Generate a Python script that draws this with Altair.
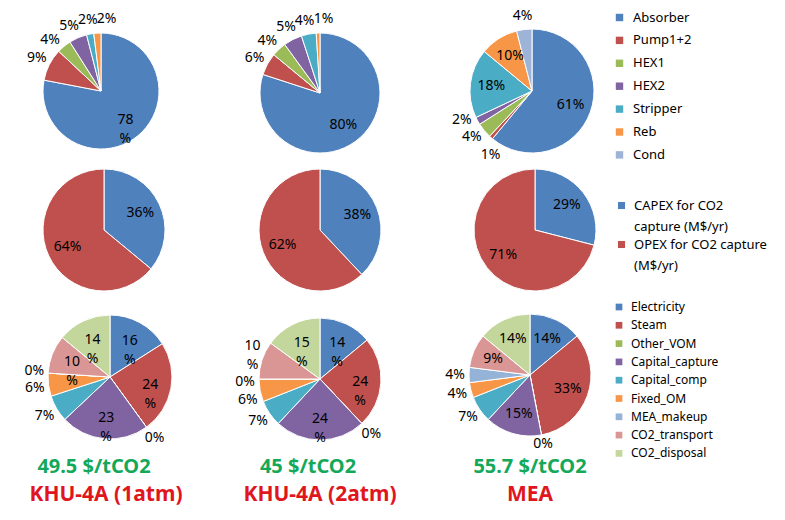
import math
import altair as alt
import pandas as pd

# ---------------- data ----------------
equip_cats = ["Absorber", "Pump1+2", "HEX1", "HEX2", "Stripper", "Reb", "Cond"]
equip_khu_1atm = [78, 9, 4, 5, 2, 2, None]
equip_khu_2atm = [80, 6, 4, 5, 4, 1, None]
equip_mea = [61, 1, 4, 2, 18, 10, 4]

cost_cats = ["CAPEX for CO2 capture (M$/yr)", "OPEX for CO2 capture (M$/yr)"]
cost_khu_1atm = [36, 64]
cost_khu_2atm = [38, 62]
cost_mea = [29, 71]

lcoc_cats = ["Electricity", "Steam", "Other_VOM", "Capital_capture", "Capital_comp",
             "Fixed_OM", "MEA_makeup", "CO2_transport", "CO2_disposal"]
lcoc_khu_1atm = [16, 24, 0, 23, 7, 6, 0, 10, 14]
lcoc_khu_2atm = [14, 24, 0, 24, 7, 6, 0, 10, 15]
lcoc_mea = [14, 33, 0, 15, 7, 4, 4, 9, 14]

capture_costs = ["49.5 $/tCO2", "45 $/tCO2", "55.7 $/tCO2"]
process_names = ["KHU-4A  (1atm)", "KHU-4A  (2atm)", "MEA"]

# ---------------- styles ----------------
equip_colors = ["#4F81BD", "#C0504D", "#9BBB59", "#8064A2", "#4BACC6", "#F79646", "#9DB3D8"]
cost_colors = ["#4F81BD", "#C0504D"]
lcoc_colors = ["#4F81BD", "#C0504D", "#9BBB59", "#8064A2", "#4BACC6", "#F79646",
               "#95B3D7", "#D99694", "#C3D69B"]

MX = 8           # page margin (left)
TOP_PAD = 6      # extra chart padding on top
MY = 8 + TOP_PAD
FONT = "Noto Sans"
LINE_H = 19
LABEL_FLOOR = 444  # outside labels keep clear of the caption text below the pies


def spread_outside(mids, labels, r_out, iters=800):
    """Push crowded outside labels apart along the circle (label layout, derived from data)."""
    a = list(mids)
    boxes = []
    for lab in labels:
        lines = lab.split("\n")
        n = len(lines)
        boxes.append((8.3 * max(len(s) for s in lines) + 2, LINE_H * n - 2, (n - 1) * LINE_H / 2))
    idx = sorted(range(len(a)), key=lambda i: a[i])

    def xy(p, i):
        t = 2 * math.pi * p / 100
        return r_out * math.sin(t), -r_out * math.cos(t) + boxes[i][2]

    for _ in range(iters):
        moved = False
        for j in range(len(idx)):
            for k in range(j + 1, len(idx)):
                i1, i2 = idx[j], idx[k]
                x1, y1 = xy(a[i1], i1)
                x2, y2 = xy(a[i2], i2)
                if (abs(x1 - x2) < (boxes[i1][0] + boxes[i2][0]) / 2 and
                        abs(y1 - y2) < (boxes[i1][1] + boxes[i2][1]) / 2):
                    a[i1] -= 0.08
                    a[i2] += 0.08
                    moved = True
        if not moved:
            break
    return a


def pie(cats, vals, colors, cx, cy, R, legend=None, wrap=False, inside_min=9):
    rows = [(c, int(v), i) for i, (c, v) in enumerate(zip(cats, vals)) if v is not None]
    df = pd.DataFrame(rows, columns=["cat", "value", "idx"])
    df["label"] = [f"{v}\n%" if (wrap and v >= 10) else f"{v}%" for v in df["value"]]
    df["mid"] = df["value"].cumsum() - df["value"] / 2
    inside = df["value"] >= inside_min
    out = df[~inside]
    r_out = R + 14
    df.loc[~inside, "mid"] = spread_outside(out["mid"].tolist(), out["label"].tolist(), r_out)
    lr = []
    for ins, m in zip(inside, df["mid"]):
        if ins:
            lr.append(0.66 * R)
        else:
            down = -math.cos(2 * math.pi * m / 100)
            r = r_out
            if down > 0 and cy + r * down > LABEL_FLOOR:
                r = (LABEL_FLOOR - cy) / down
            lr.append(r)
    df["lr"] = lr

    pos = dict(x=alt.value(cx - MX), y=alt.value(cy - MY))
    arc = alt.Chart(df).mark_arc(outerRadius=R, stroke="white", strokeWidth=1).encode(
        theta=alt.Theta("value:Q", stack=True, scale=alt.Scale(domain=[0, 100])),
        order=alt.Order("idx:Q"),
        color=alt.Color("cat:N", scale=alt.Scale(domain=cats, range=colors), legend=legend),
        **pos,
    )
    text = alt.Chart(df).mark_text(
        font=FONT, fontSize=14, color="black", lineBreak="\n", lineHeight=LINE_H
    ).encode(
        theta=alt.Theta("mid:Q", stack=None, scale=alt.Scale(domain=[0, 100])),
        radius=alt.Radius("lr:Q", scale=None),
        text="label:N",
        **pos,
    )
    return alt.layer(arc, text)


leg1 = alt.Legend(title=None, orient="none", legendX=605, legendY=3 - TOP_PAD, symbolType="square",
                  symbolSize=55, symbolStrokeWidth=0, labelFont=FONT, labelFontSize=13,
                  rowPadding=8.9, labelOffset=7, padding=0, labelColor="black")
leg2 = alt.Legend(title=None, orient="none", legendX=607, legendY=191 - TOP_PAD, symbolType="square",
                  symbolSize=50, symbolStrokeWidth=0, labelFont=FONT, labelFontSize=13,
                  rowPadding=4, labelOffset=6, padding=0, labelColor="black", labelLimit=300,
                  labelExpr="datum.label == 'CAPEX for CO2 capture (M$/yr)' ? "
                            "['CAPEX for CO2', 'capture (M$/yr)'] : "
                            "['OPEX for CO2 capture', '(M$/yr)']")
leg3 = alt.Legend(title=None, orient="none", legendX=605, legendY=293 - TOP_PAD, symbolType="square",
                  symbolSize=45, symbolStrokeWidth=0, labelFont=FONT, labelFontSize=12,
                  rowPadding=6.3, labelOffset=6, padding=0, labelColor="black")

layers = [
    pie(equip_cats, equip_khu_1atm, equip_colors, 101, 91, 58, wrap=True, inside_min=10),
    pie(equip_cats, equip_khu_2atm, equip_colors, 320, 93, 60),
    pie(equip_cats, equip_mea, equip_colors, 532, 91, 62, legend=leg1),
    pie(cost_cats, cost_khu_1atm, cost_colors, 104, 230, 61),
    pie(cost_cats, cost_khu_2atm, cost_colors, 320, 230, 61),
    pie(cost_cats, cost_mea, cost_colors, 535, 230, 61, legend=leg2),
    pie(lcoc_cats, lcoc_khu_1atm, lcoc_colors, 110, 377, 62, wrap=True),
    pie(lcoc_cats, lcoc_khu_2atm, lcoc_colors, 320, 379, 61, wrap=True, inside_min=11),
    pie(lcoc_cats, lcoc_mea, lcoc_colors, 530, 375, 61, legend=leg3),
]

col_x = [94, 308, 530]
for i in range(3):
    tdf = pd.DataFrame({"cost": [capture_costs[i]], "name": [process_names[i]]})
    layers.append(
        alt.Chart(tdf).mark_text(font=FONT, fontSize=20, fontWeight="bold", color="#14A85A")
        .encode(text="cost:N", x=alt.value(col_x[i] - MX), y=alt.value(467 - MY))
    )
    layers.append(
        alt.Chart(tdf).mark_text(font=FONT, fontSize=21, fontWeight="bold", color="#E0161E")
        .encode(text="name:N", x=alt.value(col_x[i] + (12 if i < 2 else 0) - MX), y=alt.value(495 - MY))
    )

chart = alt.layer(*layers).resolve_scale(color="independent").properties(
    width=769, height=498, autosize="none",
    padding={"left": 0, "top": TOP_PAD, "right": 0, "bottom": 0}, background="white"
).configure(
    view={"stroke": None},
    style={"guide-label": {"lineHeight": 21}},
)

chart.save("out.html", embed_options={"renderer": "svg", "actions": False})
